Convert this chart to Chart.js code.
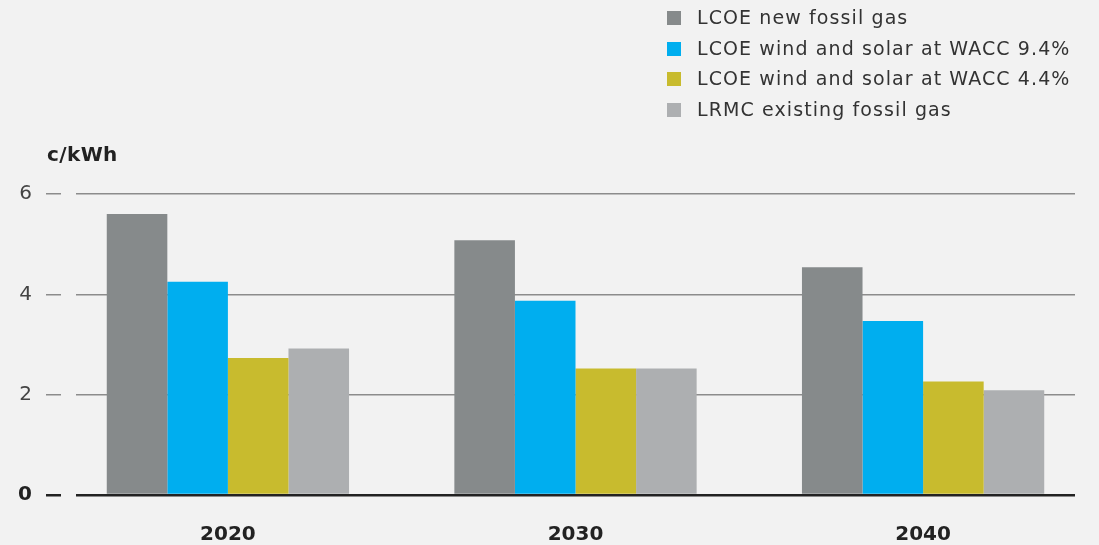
<!DOCTYPE html>
<html>
<head>
<meta charset="utf-8">
<script src="https://cdn.jsdelivr.net/npm/chart.js@4"></script>
<style>
  html, body { margin: 0; padding: 0; background: #f2f2f2; }
  #wrap { position: relative; width: 1099px; height: 545px; font-family: "DejaVu Sans", sans-serif; }
  canvas { display: block; }
  #legend { position: absolute; left: 667px; top: 3px; color: #333; font-size: 19px; letter-spacing: 1.1px; }
  #legend div { height: 30.5px; line-height: 28px; white-space: nowrap; }
  #legend span { display: inline-block; width: 14px; height: 14px; margin-right: 16px; vertical-align: -1px; }
  #unit { position: absolute; left: 47px; top: 142px; font-size: 20px; font-weight: bold; color: #222; letter-spacing: 0.4px; }
</style>
</head>
<body>
<div id="wrap">
  <canvas id="coutChart" width="1099" height="545"></canvas>
  <div id="legend"></div>
  <div id="unit">c/kWh</div>
</div>
<script>
const annees = [2020, 2030, 2040];
const gazNeuf = [5.6, 5.08, 4.54];
const ventSolaire94 = [4.25, 3.87, 3.47];
const ventSolaire44 = [2.73, 2.52, 2.26];
const gazExistant = [2.92, 2.52, 2.09];
const graduations = [0, 2, 4, 6];

function estZero(c) {
    return !!(c && c.tick && c.tick.value === 0);
}

document.addEventListener('DOMContentLoaded', function () {
    const el = document.getElementById('coutChart');
    if (!el) return;

    const ctx = el.getContext('2d');

    const chart = new Chart(ctx, {
        type: 'bar',
        data: {
            labels: annees,
            datasets: [
                { label: 'LCOE new fossil gas', data: gazNeuf, backgroundColor: '#868a8b' },
                { label: 'LCOE wind and solar at WACC 9.4%', data: ventSolaire94, backgroundColor: '#00aeef' },
                { label: 'LCOE wind and solar at WACC 4.4%', data: ventSolaire44, backgroundColor: '#c8bb2e' },
                { label: 'LRMC existing fossil gas', data: gazExistant, backgroundColor: '#adafb1' }
            ]
        },
        options: {
            responsive: false,
            animation: false,
            layout: { padding: { top: 194, right: 24, bottom: 0, left: 0 } },
            datasets: { bar: { categoryPercentage: 0.697, barPercentage: 1.0 } },
            plugins: {
                legend: { display: false },
                tooltip: { enabled: false }
            },
            scales: {
                x: {
                    type: 'linear',
                    // les années sont un peu décalées par rapport à la grille
                    min: 2015.63,
                    max: 2044.37,
                    offset: false,
                    afterFit: function (scale) { scale.height = 50; },
                    afterBuildTicks: function (scale) {
                        scale.ticks = annees.map(v => ({ value: v }));
                    },
                    grid: { display: false, drawTicks: false },
                    border: { display: false },
                    ticks: {
                        padding: 28,
                        color: '#222',
                        callback: v => String(v),
                        font: { family: 'DejaVu Sans', size: 20, weight: 'bold' }
                    }
                },
                y: {
                    min: 0,
                    max: 6,
                    afterFit: function (scale) { scale.width = 76; },
                    afterBuildTicks: function (scale) {
                        scale.ticks = graduations.map(v => ({ value: v }));
                    },
                    border: { display: false },
                    grid: {
                        color: c => estZero(c) ? '#222' : '#8c8c8c',
                        lineWidth: c => estZero(c) ? 2.5 : 1.5,
                        tickColor: c => estZero(c) ? '#222' : '#8c8c8c',
                        tickLength: 30,
                        tickBorderDash: [15, 15]
                    },
                    ticks: {
                        padding: 14,
                        color: c => estZero(c) ? '#222' : '#444',
                        font: c => ({
                            family: 'DejaVu Sans',
                            size: 20,
                            weight: estZero(c) ? 'bold' : 'normal'
                        })
                    }
                }
            }
        }
    });

    const legende = document.getElementById('legend');
    chart.data.datasets.forEach(ds => {
        const ligne = document.createElement('div');
        const carre = document.createElement('span');
        carre.style.background = ds.backgroundColor;
        ligne.appendChild(carre);
        ligne.appendChild(document.createTextNode(ds.label));
        legende.appendChild(ligne);
    });
});
</script>
</body>
</html>
